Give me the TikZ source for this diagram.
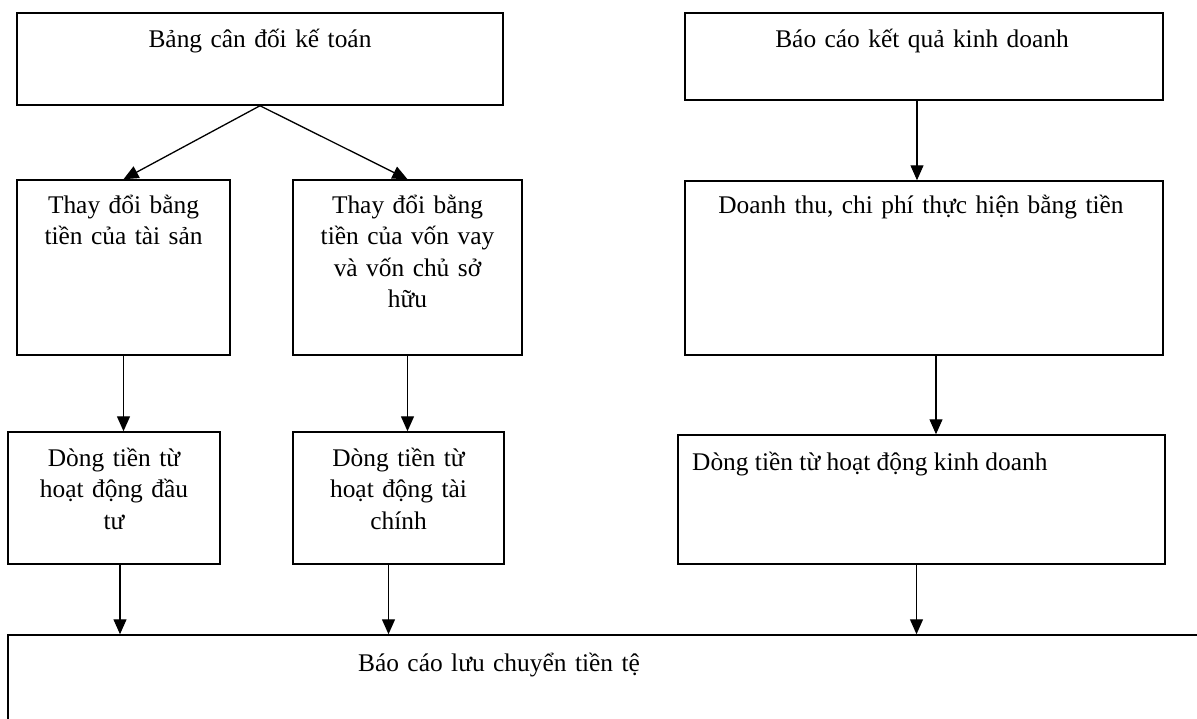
\documentclass[tikz,border=0pt]{standalone}
\usepackage{fontspec}
\setmainfont{Liberation Serif}
\usetikzlibrary{arrows.meta}

\tikzset{
  card/.style = {draw, line width=1.5pt, inner sep=0pt},
  flow/.style = {line width=1.3pt, -{Triangle[length=15pt, width=13pt]}},
  cardtext/.style = {anchor = base, align=center, inner sep=0pt, text width=#1},
  cardtext/.default = 230pt
}

\begin{document}
\begin{tikzpicture}[x=1pt, y=-1pt, font=\fontsize{25.4}{31.5}\selectfont]
\useasboundingbox (0,0) rectangle (1197,718);
\clip (0,0) rectangle (1197,718);
\node[card, minimum width=486pt, minimum height=92pt] (bcdkt) at (260,59) {};
\node[card, minimum width=478pt, minimum height=87pt] (kqkd) at (924,56.5) {};
\node[card, minimum width=213pt, minimum height=175pt] (tsan) at (123.5,267.5) {};
\node[card, minimum width=229pt, minimum height=175pt] (von) at (407.5,267.5) {};
\node[card, minimum width=478pt, minimum height=174pt] (dtcp) at (924,268) {};
\node[card, minimum width=212pt, minimum height=132pt] (dautu) at (114,498) {};
\node[card, minimum width=211pt, minimum height=132pt] (taichinh) at (398.5,498) {};
\node[card, minimum width=487pt, minimum height=129pt] (kinhdoanh) at (921.5,499.5) {};
\node[card, minimum width=1252pt, minimum height=125pt] (lctt) at (634,697.5) {};
\node[cardtext] (t1) at (260,47) {Bảng cân đối kế toán};
\node[cardtext=420pt] (t2) at (922,47) {Báo cáo kết quả kinh doanh};
\node[cardtext=205pt] (t3) at (123.5,213) {Thay đổi bằng\\tiền của tài sản};
\node[cardtext=220pt] (t4) at (407.5,213) {Thay đổi bằng\\tiền của vốn vay\\và vốn chủ sở\\hữu};
\node[cardtext=460pt] (t5) at (921,213) {Doanh thu, chi phí thực hiện bằng tiền};
\node[cardtext=205pt] (t6) at (114,466) {Dòng tiền từ\\hoạt động đầu\\tư};
\node[cardtext=205pt] (t7) at (398.5,466) {Dòng tiền từ\\hoạt động tài\\chính};
\node[anchor = base west, inner sep=0pt] (t8) at (692,470) {Dòng tiền từ hoạt động kinh doanh};
\node[cardtext=420pt] (t9) at (499,671) {Báo cáo lưu chuyển tiền tệ};
\draw[flow] (bcdkt.south) -- (tsan.north);
\draw[flow] (bcdkt.south) -- (von.north);
\draw[flow] ([xshift=-7pt]kqkd.south) -- ([xshift=-7pt]kqkd.south |- dtcp.north);
\draw[flow] (tsan.south) -- (tsan.south |- dautu.north);
\draw[flow] (von.south) -- (von.south |- taichinh.north);
\draw[flow] ([xshift=12pt]dtcp.south) -- ([xshift=12pt]dtcp.south |- kinhdoanh.north);
\draw[flow] ([xshift=6pt]dautu.south) -- ([xshift=6pt]dautu.south |- lctt.north);
\draw[flow] ([xshift=-10pt]taichinh.south) -- ([xshift=-10pt]taichinh.south |- lctt.north);
\draw[flow] ([xshift=-5pt]kinhdoanh.south) -- ([xshift=-5pt]kinhdoanh.south |- lctt.north);
\end{tikzpicture}
\end{document}
